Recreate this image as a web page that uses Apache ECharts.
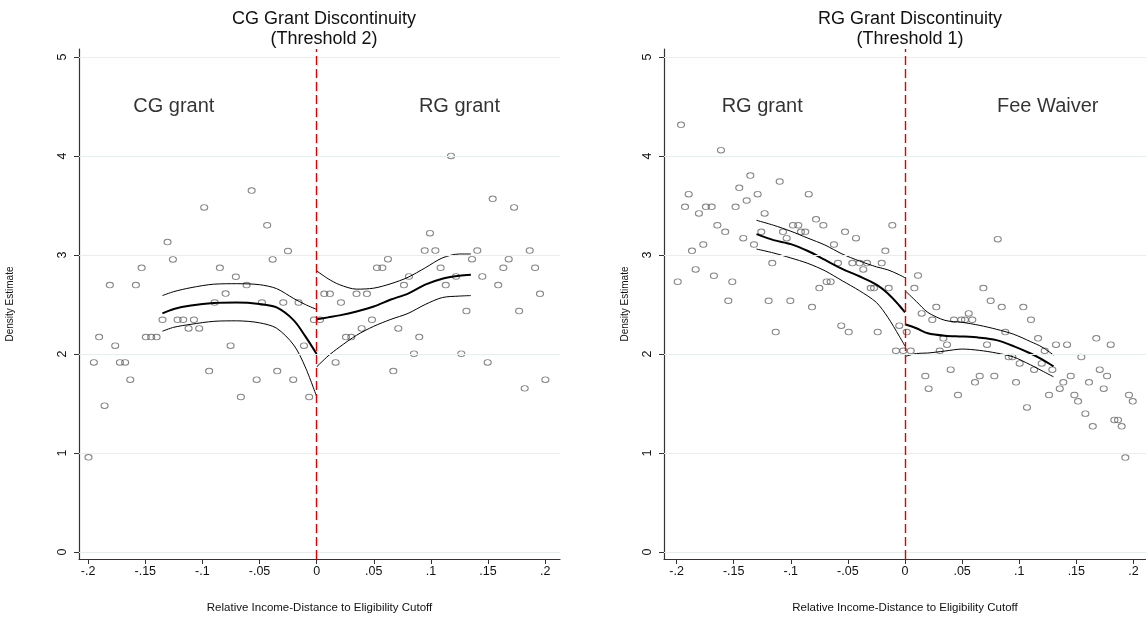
<!DOCTYPE html>
<html>
<head>
<meta charset="utf-8">
<script src="https://cdn.jsdelivr.net/npm/echarts@6/dist/echarts.min.js"></script>
<style>
  html, body { margin: 0; padding: 0; background: #fff; }
  #chart { width: 1146px; height: 619px; }
</style>
</head>
<body>
<div id="chart"></div>
<script>
// binned density, CG threshold (left panel)
var cgBinX = [-0.1997, -0.195, -0.1904, -0.1856, -0.181, -0.1763, -0.1722, -0.1676, -0.1631, -0.1582,
  -0.1532, -0.1495, -0.1448, -0.1401, -0.1349, -0.1305, -0.1258, -0.1217, -0.1168, -0.1121,
  -0.1074, -0.1028, -0.0984, -0.0941, -0.0893, -0.0847, -0.0797, -0.0753, -0.0707, -0.0663,
  -0.0613, -0.0569, -0.0525, -0.0479, -0.0433, -0.0385, -0.0345, -0.0292, -0.0251, -0.0205,
  -0.0158, -0.0111, -0.0065, -0.0024, 0.0029, 0.0067, 0.0116, 0.0166, 0.0213, 0.0257,
  0.0303, 0.0349, 0.0394, 0.044, 0.0484, 0.0528, 0.0575, 0.0624, 0.0671, 0.0715,
  0.0764, 0.0808, 0.0852, 0.0898, 0.0946, 0.0992, 0.1039, 0.1085, 0.113, 0.1176,
  0.122, 0.1266, 0.1311, 0.136, 0.1406, 0.145, 0.1497, 0.1541, 0.1589, 0.1634,
  0.1681, 0.1728, 0.1772, 0.1821, 0.1865, 0.1912, 0.1955, 0.2002];
var cgBinY = [0.957, 1.915, 2.171, 1.478, 2.696, 2.084, 1.915, 1.915, 1.741, 2.696,
  2.87, 2.171, 2.171, 2.171, 2.346, 3.13, 2.955, 2.346, 2.346, 2.258,
  2.346, 2.258, 3.48, 1.828, 2.52, 2.87, 2.61, 2.084, 2.78, 1.566,
  2.696, 3.65, 1.741, 2.52, 3.30, 2.955, 1.828, 2.52, 3.04, 1.741,
  2.52, 2.084, 1.566, 2.346, 2.346, 2.608, 2.608, 1.915, 2.52, 2.171,
  2.171, 2.608, 2.258, 2.608, 2.346, 2.871, 2.871, 2.958, 1.828, 2.258,
  2.696, 2.783, 2.003, 2.171, 3.045, 3.22, 3.045, 2.871, 2.696, 4.00,
  2.783, 2.003, 2.434, 2.958, 3.045, 2.783, 1.915, 3.567, 2.696, 2.871,
  2.958, 3.48, 2.434, 1.653, 3.045, 2.871, 2.608, 1.741];

// local fits and bands, CG threshold
var cgFitLeftX = [-0.135, -0.125, -0.11, -0.09, -0.07, -0.05, -0.035, -0.02, -0.01, 0];
var cgFitLeftMid = [2.41, 2.455, 2.49, 2.515, 2.52, 2.505, 2.47, 2.34, 2.18, 2.0];
var cgFitLeftHi = [2.59, 2.63, 2.67, 2.705, 2.71, 2.70, 2.66, 2.56, 2.50, 2.45];
var cgFitLeftLo = [2.23, 2.27, 2.30, 2.33, 2.335, 2.315, 2.26, 2.09, 1.87, 1.57];
var cgFitRightX = [0, 0.01, 0.02, 0.035, 0.05, 0.065, 0.08, 0.095, 0.11, 0.125, 0.135];
var cgFitRightMid = [2.35, 2.37, 2.39, 2.43, 2.48, 2.55, 2.61, 2.70, 2.76, 2.79, 2.80];
var cgFitRightHi = [2.84, 2.76, 2.70, 2.655, 2.665, 2.71, 2.775, 2.87, 2.97, 3.01, 3.01];
var cgFitRightLo = [1.87, 1.98, 2.07, 2.19, 2.28, 2.35, 2.41, 2.50, 2.57, 2.585, 2.59];

// binned density, RG threshold (right panel)
var rgBinX = [-0.199, -0.1961, -0.1926, -0.1894, -0.1865, -0.1833, -0.1804, -0.1766, -0.1743, -0.1693,
  -0.1673, -0.1643, -0.1611, -0.1574, -0.1547, -0.1512, -0.1483, -0.1451, -0.1416, -0.1386,
  -0.1354, -0.1322, -0.129, -0.1258, -0.1229, -0.1194, -0.1162, -0.1132, -0.1097, -0.1068,
  -0.1036, -0.1004, -0.0981, -0.0934, -0.0911, -0.0873, -0.0843, -0.0814, -0.0779, -0.075,
  -0.0715, -0.0686, -0.0651, -0.0622, -0.0587, -0.0558, -0.0525, -0.0493, -0.0461, -0.0429,
  -0.0397, -0.0365, -0.0333, -0.03, -0.0271, -0.0239, -0.0204, -0.0172, -0.0143, -0.0111,
  -0.0079, -0.005, -0.0015, 0.0015, 0.005, 0.0082, 0.0114, 0.0146, 0.0178, 0.0207,
  0.0239, 0.0274, 0.0304, 0.0336, 0.0368, 0.04, 0.0429, 0.0464, 0.0493, 0.0525,
  0.0558, 0.0589, 0.0613, 0.0654, 0.0686, 0.0718, 0.075, 0.0782, 0.0812, 0.0847,
  0.0878, 0.0908, 0.094, 0.0972, 0.1004, 0.1036, 0.1068, 0.1103, 0.113, 0.1165,
  0.1197, 0.1223, 0.1261, 0.129, 0.1322, 0.1355, 0.1386, 0.1419, 0.1451, 0.1483,
  0.1515, 0.1544, 0.1579, 0.1611, 0.1644, 0.1675, 0.1705, 0.174, 0.1769, 0.1801,
  0.1833, 0.1865, 0.1897, 0.1929, 0.1961, 0.1994];
var rgBinY = [2.73, 4.314, 3.486, 3.614, 3.042, 2.854, 3.42, 3.106, 3.486, 3.486,
  2.79, 3.30, 4.058, 3.234, 2.538, 2.73, 3.486, 3.678, 3.17, 3.55,
  3.802, 3.106, 3.614, 3.234, 3.42, 2.538, 2.918, 2.222, 3.742, 3.234,
  3.17, 2.538, 3.30, 3.30, 3.234, 3.234, 3.614, 2.474, 3.36, 2.666,
  3.30, 2.73, 2.73, 3.106, 2.918, 2.286, 3.234, 2.222, 2.918, 3.17,
  2.918, 2.854, 2.918, 2.666, 2.666, 2.222, 2.918, 3.042, 2.666, 3.30,
  2.033, 2.286, 2.033, 2.222, 2.033, 2.666, 2.793, 2.41, 1.778, 1.65,
  2.346, 2.474, 2.033, 2.158, 2.094, 1.842, 2.346, 1.586, 2.346, 2.346,
  2.41, 2.346, 1.714, 1.778, 2.666, 2.094, 2.538, 1.778, 3.16, 2.474,
  2.222, 1.97, 1.97, 1.714, 1.905, 2.474, 1.461, 2.346, 1.842, 2.158,
  1.905, 2.033, 1.586, 1.842, 2.094, 1.65, 1.714, 2.094, 1.778, 1.586,
  1.522, 1.97, 1.398, 1.714, 1.27, 2.158, 1.842, 1.65, 1.778, 2.094,
  1.334, 1.334, 1.27, 0.954, 1.586, 1.522];

// local fits and bands, RG threshold
var rgFitLeftX = [-0.13, -0.115, -0.1, -0.085, -0.07, -0.055, -0.04, -0.025, -0.015, -0.005, 0];
var rgFitLeftMid = [3.21, 3.15, 3.11, 3.04, 2.95, 2.86, 2.785, 2.70, 2.61, 2.49, 2.42];
var rgFitLeftHi = [3.35, 3.30, 3.24, 3.17, 3.10, 3.01, 2.94, 2.88, 2.85, 2.80, 2.77];
var rgFitLeftLo = [3.06, 3.02, 2.97, 2.915, 2.84, 2.74, 2.64, 2.52, 2.37, 2.18, 2.08];
var rgFitRightX = [0, 0.01, 0.02, 0.035, 0.05, 0.065, 0.08, 0.095, 0.11, 0.12, 0.13];
var rgFitRightMid = [2.30, 2.26, 2.21, 2.185, 2.177, 2.165, 2.14, 2.08, 2.005, 1.945, 1.875];
var rgFitRightHi = [2.64, 2.53, 2.42, 2.34, 2.32, 2.29, 2.25, 2.20, 2.125, 2.07, 1.99];
var rgFitRightLo = [1.975, 2.005, 2.01, 2.03, 2.05, 2.037, 2.01, 1.97, 1.89, 1.83, 1.77];

// axes and labels
var xTicks = [-0.2, -0.15, -0.1, -0.05, 0, 0.05, 0.1, 0.15, 0.2];
var yTicks = [0, 1, 2, 3, 4, 5];
var cutoff = 0;
var titles = ['CG Grant Discontinuity\n(Threshold 2)', 'RG Grant Discontinuity\n(Threshold 1)'];
var cgNotes = [[-0.125, 4.5, 'CG grant'], [0.125, 4.5, 'RG grant']];
var rgNotes = [[-0.125, 4.5, 'RG grant'], [0.125, 4.5, 'Fee Waiver']];

var FONT = '"Liberation Sans", Arial, Helvetica, sans-serif';

function pairs(xs, ys) {
    return xs.map(function (x, i) { return [x, ys[i]]; });
}

function fmtX(v) {
    if (v === 0) return '0';
    return (v < 0 ? '-' : '') + String(Math.abs(v)).replace(/^0/, '');
}

function xAxisFor(idx, min, max) {
    return {
        type: 'value', gridIndex: idx, min: min, max: max,
        name: 'Relative Income-Distance to Eligibility Cutoff',
        nameLocation: 'middle', nameGap: 43,
        nameTextStyle: {fontFamily: FONT, fontSize: 11.5, color: '#111'},
        axisLine: {show: true, onZero: false, lineStyle: {color: '#333', width: 1.2}},
        axisTick: {show: true, length: 5, customValues: xTicks, lineStyle: {color: '#333'}},
        axisLabel: {customValues: xTicks, formatter: fmtX, margin: 6,
            fontFamily: FONT, fontSize: 12.5, color: '#111'},
        splitLine: {show: false}
    };
}

function yAxisFor(idx, gap) {
    return {
        type: 'value', gridIndex: idx, min: -0.07, max: 5.08,
        name: 'Density Estimate', nameLocation: 'middle', nameGap: gap,
        nameTextStyle: {fontFamily: FONT, fontSize: 10, color: '#111'},
        axisLine: {show: true, onZero: false, lineStyle: {color: '#333', width: 1.2}},
        axisTick: {show: true, length: 5, customValues: yTicks, lineStyle: {color: '#333'}},
        axisLabel: {customValues: yTicks, rotate: 90, margin: 10,
            fontFamily: FONT, fontSize: 12.5, color: '#111'},
        splitLine: {show: false}
    };
}

function panelSeries(idx, binX, binY, fits, notes) {
    var list = [];
    var guide = yTicks.map(function (v) {
        return {yAxis: v, lineStyle: {color: '#e6eeee', width: 1, type: 'solid'}};
    });
    guide.push({xAxis: cutoff, lineStyle: {color: '#e00000', width: 1.4, type: [9, 4]}});
    list.push({
        type: 'scatter', xAxisIndex: idx, yAxisIndex: idx,
        data: pairs(binX, binY),
        symbol: 'circle', symbolSize: [7, 5.6],
        itemStyle: {color: 'rgba(255,255,255,0)', borderColor: '#666', borderWidth: 1},
        markLine: {silent: true, symbol: ['none', 'none'], label: {show: false},
            animation: false, data: guide}
    });
    fits.forEach(function (f) {
        [[f.mid, 2], [f.hi, 1], [f.lo, 1]].forEach(function (c) {
            list.push({
                type: 'line', xAxisIndex: idx, yAxisIndex: idx,
                data: pairs(f.x, c[0]), showSymbol: false, symbol: 'none',
                smooth: 0.3, z: 3,
                lineStyle: {color: '#000', width: c[1]}
            });
        });
    });
    list.push({
        type: 'scatter', xAxisIndex: idx, yAxisIndex: idx,
        data: notes, symbolSize: 1, z: 4,
        itemStyle: {color: 'rgba(0,0,0,0)'},
        label: {show: true, position: 'inside', formatter: function (p) { return p.data[2]; },
            fontFamily: FONT, fontSize: 20, color: '#000', textBorderWidth: 0}
    });
    return list;
}

var chart = echarts.init(document.getElementById('chart'), null, {renderer: 'canvas'});

var series = panelSeries(0, cgBinX, cgBinY, [
    {x: cgFitLeftX, mid: cgFitLeftMid, hi: cgFitLeftHi, lo: cgFitLeftLo},
    {x: cgFitRightX, mid: cgFitRightMid, hi: cgFitRightHi, lo: cgFitRightLo}
], cgNotes).concat(panelSeries(1, rgBinX, rgBinY, [
    {x: rgFitLeftX, mid: rgFitLeftMid, hi: rgFitLeftHi, lo: rgFitLeftLo},
    {x: rgFitRightX, mid: rgFitRightMid, hi: rgFitRightHi, lo: rgFitRightLo}
], rgNotes));

chart.setOption({
    backgroundColor: '#fff',
    animation: false,
    title: [
        {text: titles[0], left: 319, top: 4, textAlign: 'center',
            textStyle: {fontFamily: FONT, fontSize: 18, fontWeight: 'normal', color: '#111', lineHeight: 20}},
        {text: titles[1], left: 905, top: 4, textAlign: 'center',
            textStyle: {fontFamily: FONT, fontSize: 18, fontWeight: 'normal', color: '#111', lineHeight: 20}}
    ],
    grid: [
        {left: 79, top: 49, width: 481, height: 510},
        {left: 664, top: 49, width: 482, height: 510}
    ],
    xAxis: [xAxisFor(0, -0.208, 0.213), xAxisFor(1, -0.211, 0.211)],
    yAxis: [yAxisFor(0, 64), yAxisFor(1, 34)],
    series: series
});
</script>
</body>
</html>
